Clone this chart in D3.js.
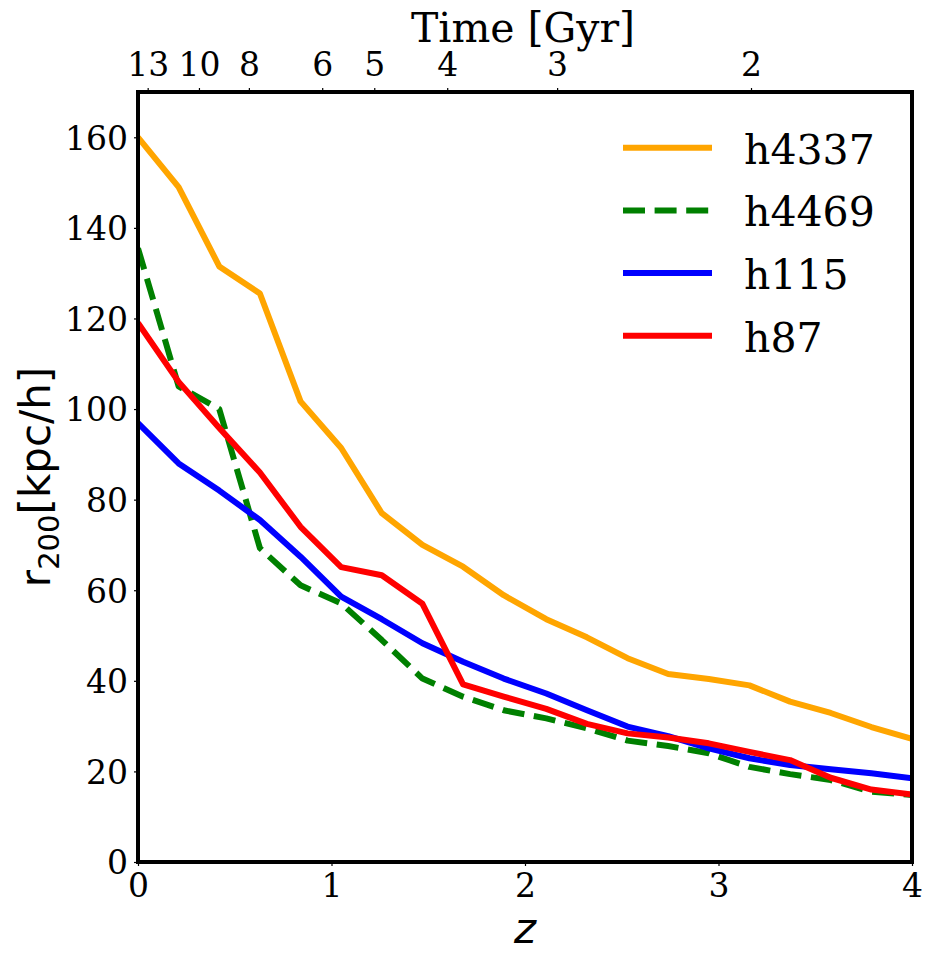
<!DOCTYPE html>
<html>
<head>
<meta charset="utf-8">
<script src="https://cdn.jsdelivr.net/npm/d3@7"></script>
<style>
  body { margin: 0; background: #fff; }
  svg { display: block; }
</style>
</head>
<body>
<div id="chart"></div>
<script>
// redshift snapshots (20 outputs from z=0 to z=4)
var redshift = [0, 0.21, 0.42, 0.63, 0.84, 1.05, 1.26, 1.47, 1.68, 1.89,
                2.11, 2.32, 2.53, 2.74, 2.95, 3.16, 3.37, 3.58, 3.79, 4.0];

// r200 [kpc/h] per halo
var h4337 = [160, 149, 131.5, 125.5, 101.7, 91.4, 77, 70, 65.2, 58.9,
             53.6, 49.6, 45, 41.5, 40.4, 39, 35.4, 32.9, 29.8, 27.2];
var h4469 = [135.5, 105, 100, 69.3, 61.1, 57.1, 49, 40.5, 36.5, 33.5,
             31.7, 29.5, 26.8, 25.6, 24, 21, 19.4, 18.1, 15.5, 14.8];
var h115  = [96.9, 88, 82, 75.5, 67.4, 58.6, 53.6, 48.3, 44.2, 40.5,
             37.2, 33.5, 29.9, 27.8, 25.1, 22.9, 21.4, 20.5, 19.6, 18.5];
var h87   = [119, 106, 95.8, 86, 74, 65.1, 63.3, 57, 39.2, 36.5,
             33.8, 30.5, 28.4, 27.5, 26.2, 24.3, 22.5, 18.6, 16.0, 14.9];

// top axis: age of the universe [Gyr] and the redshift where each tick sits
var timeLabels = ["13", "10", "8", "6", "5", "4", "3", "2"];
var timeTickZ  = [0.05, 0.315, 0.573, 0.952, 1.221, 1.598, 2.166, 3.168];

var xTicks = [0, 1, 2, 3, 4];
var yTicks = [0, 20, 40, 60, 80, 100, 120, 140, 160];

var series = [
    { name: "h4337", values: h4337, color: "#FFA500", dash: null },
    { name: "h4469", values: h4469, color: "#008000", dash: "22,9.6" },
    { name: "h115",  values: h115,  color: "#0000FF", dash: null },
    { name: "h87",   values: h87,   color: "#FF0000", dash: null }
];

var W = 933, H = 963;
var margin = { top: 92, right: 21, bottom: 101, left: 138 },
    width = W - margin.left - margin.right,
    height = H - margin.top - margin.bottom;

var svg = d3.select("#chart").append("svg")
    .attr("width", W)
    .attr("height", H);

var g = svg.append("g")
    .attr("transform", "translate(" + margin.left + "," + margin.top + ")");

var x = d3.scaleLinear().domain([0, 4]).range([0, width]);
var y = d3.scaleLinear().domain([0, 170]).range([height, 0]);

var serif = "'DejaVu Serif', serif";
var sans = "'DejaVu Sans', sans-serif";

// clip lines to the axes box
g.append("clipPath").attr("id", "clip")
    .append("rect").attr("width", width).attr("height", height);

var line = d3.line()
    .x(function (d, i) { return x(redshift[i]); })
    .y(function (d) { return y(d); });

g.append("g").attr("clip-path", "url(#clip)")
    .selectAll("path")
    .data(series)
    .enter()
    .append("path")
    .attr("d", function (d) { return line(d.values); })
    .attr("fill", "none")
    .attr("stroke", function (d) { return d.color; })
    .attr("stroke-width", 6)
    .attr("stroke-linejoin", "round")
    .attr("stroke-dasharray", function (d) { return d.dash; });

// axes
var xAxis = g.append("g")
    .attr("transform", "translate(0," + height + ")")
    .call(d3.axisBottom(x).tickValues(xTicks).tickFormat(d3.format("d"))
        .tickSizeInner(4).tickSizeOuter(0).tickPadding(8));

var yAxis = g.append("g")
    .call(d3.axisLeft(y).tickValues(yTicks).tickFormat(d3.format("d"))
        .tickSizeInner(4).tickSizeOuter(0).tickPadding(6));

var topAxis = g.append("g")
    .call(d3.axisTop(x).tickValues(timeTickZ)
        .tickFormat(function (d, i) { return timeLabels[i]; })
        .tickSizeInner(4).tickSizeOuter(0).tickPadding(12));

[xAxis, yAxis, topAxis].forEach(function (a) {
    a.select(".domain").remove();
    a.selectAll(".tick line").attr("stroke", "#000").attr("stroke-width", 1.2);
    a.selectAll(".tick text")
        .style("font-family", serif)
        .style("font-size", "33px")
        .attr("fill", "#000");
});
xAxis.selectAll(".tick text").attr("dy", "0.71em");
yAxis.selectAll(".tick text").attr("dy", "0.36em");
topAxis.selectAll(".tick text").attr("dy", "0");

// frame
g.append("rect")
    .attr("width", width)
    .attr("height", height)
    .attr("fill", "none")
    .attr("stroke", "#000")
    .attr("stroke-width", 4);

// axis labels
svg.append("text")
    .attr("x", margin.left + width / 2)
    .attr("y", 943)
    .attr("text-anchor", "middle")
    .style("font-family", sans)
    .style("font-style", "italic")
    .style("font-size", "42px")
    .text("z");

svg.append("text")
    .attr("x", margin.left + width / 2 - 2)
    .attr("y", 42)
    .attr("text-anchor", "middle")
    .style("font-family", serif)
    .style("font-size", "41px")
    .text("Time [Gyr]");

var ylab = svg.append("text")
    .attr("transform", "translate(50," + (margin.top + height / 2) + ") rotate(-90)")
    .attr("text-anchor", "middle")
    .style("font-family", sans)
    .style("font-size", "42px");
ylab.append("tspan").text("r");
ylab.append("tspan").attr("dy", 9).style("font-size", "29px").text("200");
ylab.append("tspan").attr("dy", -9).text("[kpc/h]");

// legend
var legend = svg.append("g");
var rows = legend.selectAll("g")
    .data(series)
    .enter()
    .append("g")
    .attr("transform", function (d, i) { return "translate(623," + (147.7 + i * 62.7) + ")"; });

rows.append("line")
    .attr("x1", 0).attr("x2", 89)
    .attr("stroke", function (d) { return d.color; })
    .attr("stroke-width", 6)
    .attr("stroke-dasharray", function (d) { return d.dash; });

rows.append("text")
    .attr("x", 121)
    .attr("y", 16)
    .style("font-family", serif)
    .style("font-size", "41px")
    .text(function (d) { return d.name; });
</script>
</body>
</html>
